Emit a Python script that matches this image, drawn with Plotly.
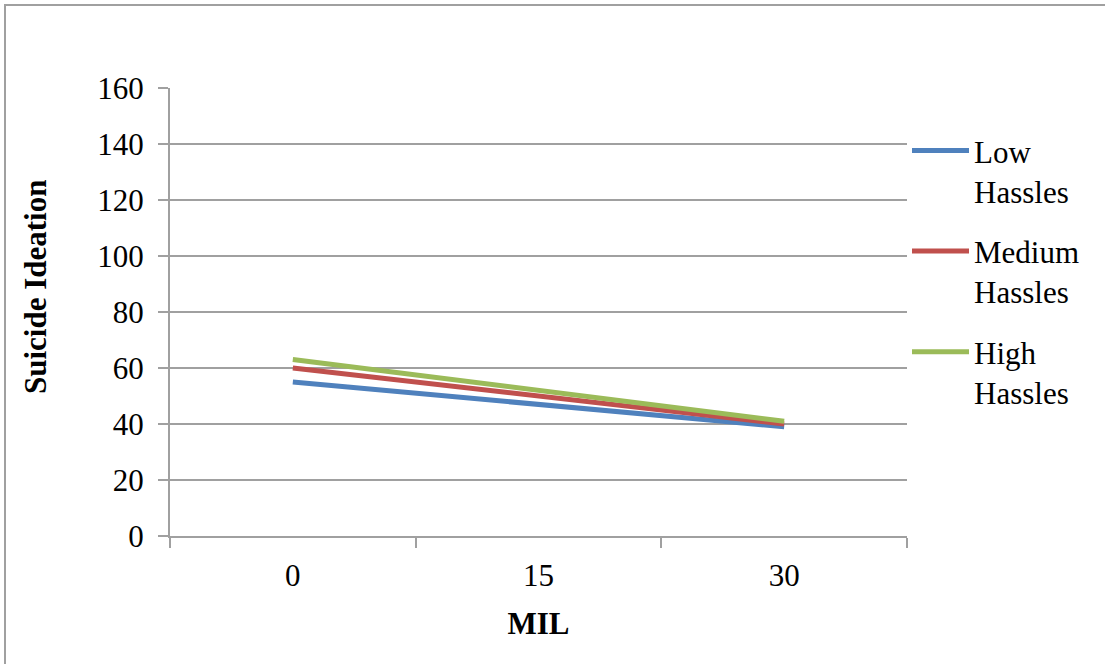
import plotly.graph_objects as go

mil_labels = ["0", "15", "30"]
low_hassles = [55, 47, 39]
medium_hassles = [60, 50, 40]
high_hassles = [63, 52, 41]
series_names = ["Low<br>Hassles", "Medium<br>Hassles", "High<br>Hassles"]
series_colors = ["#4F81BD", "#C0504D", "#9BBB59"]
y_ticks = [0, 20, 40, 60, 80, 100, 120, 140, 160]

FONT = "Liberation Serif, Times New Roman, serif"
GRID = "#A0A0A0"

fig = go.Figure()
for name, vals, col in zip(series_names, [low_hassles, medium_hassles, high_hassles], series_colors):
    fig.add_trace(go.Scatter(
        x=mil_labels, y=vals, mode="lines", name=name, legendgroup=name,
        line=dict(color=col, width=5),
    ))

fig.update_layout(
    width=1105, height=664,
    margin=dict(l=170, r=198, t=88, b=128),
    paper_bgcolor="white", plot_bgcolor="white",
    font=dict(family=FONT, size=31, color="black"),
    showlegend=True,
    legend=dict(
        x=1.0, xanchor="left", y=0.92, yanchor="top",
        font=dict(family=FONT, size=31, color="black"),
        valign="top", traceorder="grouped", tracegroupgap=17,
        itemwidth=57,
        bgcolor="rgba(0,0,0,0)",
    ),
    xaxis=dict(
        type="category", range=[-0.5, 2.5],
        showgrid=False, showline=True, linecolor=GRID, linewidth=2,
        ticks="outside", tickson="boundaries", ticklen=10, tickwidth=2, tickcolor=GRID,
        ticklabelstandoff=11,
        title=dict(text="<b>MIL</b>", font=dict(family=FONT, size=31), standoff=20),
        fixedrange=True,
    ),
    yaxis=dict(
        range=[0, 160], tickvals=y_ticks,
        showgrid=True, gridcolor=GRID, gridwidth=2,
        showline=True, linecolor=GRID, linewidth=2,
        ticks="outside", ticklen=10, tickwidth=2, tickcolor=GRID,
        ticklabelstandoff=8,
        zeroline=False,
        fixedrange=True,
    ),
    annotations=[dict(
        text="<b>Suicide Ideation</b>", textangle=-90,
        xref="paper", yref="paper", x=0, y=(536 - 287) / 448,
        xanchor="center", yanchor="middle", xshift=35 - 170,
        showarrow=False, font=dict(family=FONT, size=31, color="black"),
    )],
    shapes=[dict(
        type="rect", xref="paper", yref="paper",
        x0=-165/737, x1=1.5, y0=-1.0, y1=(536 - 5) / 448,
        line=dict(color="#A0A0A0", width=2), fillcolor="rgba(0,0,0,0)", layer="below",
    )],
)

fig.write_html("out.html")
